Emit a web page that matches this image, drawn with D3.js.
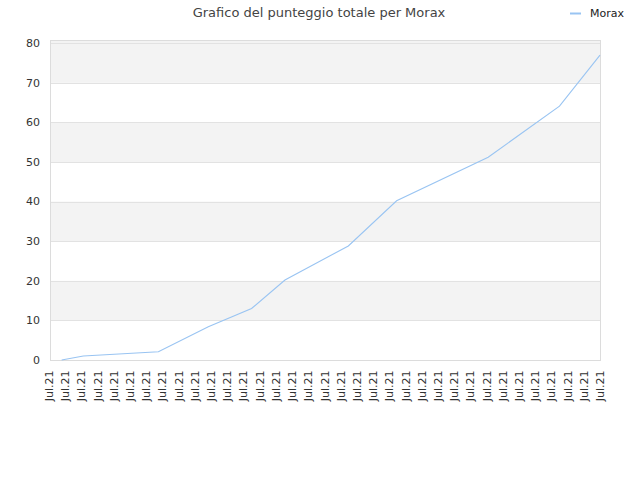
<!DOCTYPE html>
<html>
<head>
<meta charset="utf-8">
<script src="https://cdn.jsdelivr.net/npm/d3@7"></script>
<style>
  body { margin: 0; background: #fff; }
  text { font-family: "DejaVu Sans", Verdana, sans-serif; }
</style>
</head>
<body>
<svg id="chart"></svg>
<script>
const width = 640;
const height = 480;

// 35 ticks along the bottom, all the same month label
const tickLabels = d3.range(35).map(() => "Jul.21");

// score samples, position in tick units
const times  = [0.78, 2.12, 6.75, 9.83, 12.5, 14.56, 18.47, 21.45, 27.1, 31.5, 34];
const scores = [0,    1.0,  2.1,  8.4,  13.0, 20.2,  28.8,  40.2,  51.2, 64.1, 77];

const yTicks = [0, 10, 20, 30, 40, 50, 60, 70, 80];
const seriesName = "Morax";
const lineColor = "#99c4f2";

const plot = { left: 50.5, right: 600.5, top: 40.5, bottom: 360.5 };

const svg = d3.select("#chart")
  .attr("width", width)
  .attr("height", height);

const x = d3.scaleLinear().domain([0, 34]).range([49, 600]);
const y = d3.scaleLinear().domain([0, 80.8]).range([plot.bottom - 0.5, plot.top - 0.5]);

/* ---------------------------
Background bands + grid
--------------------------- */

const bands = [[10, 20], [30, 40], [50, 60], [70, 80.8]];
svg.selectAll("rect.band")
  .data(bands)
  .enter()
  .append("rect")
  .attr("class", "band")
  .attr("x", plot.left)
  .attr("width", plot.right - plot.left)
  .attr("y", d => y(d[1]))
  .attr("height", d => y(d[0]) - y(d[1]))
  .attr("fill", "#f3f3f3");

svg.selectAll("line.grid")
  .data(yTicks.slice(1))
  .enter()
  .append("line")
  .attr("class", "grid")
  .attr("x1", plot.left)
  .attr("x2", plot.right)
  .attr("y1", d => Math.round(y(d)) + 0.5)
  .attr("y2", d => Math.round(y(d)) + 0.5)
  .attr("stroke", "#e2e2e2");

// frame
svg.append("rect")
  .attr("x", plot.left)
  .attr("y", plot.top)
  .attr("width", plot.right - plot.left)
  .attr("height", plot.bottom - plot.top)
  .attr("fill", "none")
  .attr("stroke", "#dcdcdc");

/* ---------------------------
Axes labels
--------------------------- */

svg.selectAll("text.ytick")
  .data(yTicks)
  .enter()
  .append("text")
  .attr("class", "ytick")
  .attr("x", 40)
  .attr("y", d => y(d))
  .attr("dy", "0.35em")
  .attr("text-anchor", "end")
  .attr("font-size", 11)
  .attr("fill", "#333")
  .text(d => d);

svg.selectAll("text.xtick")
  .data(tickLabels)
  .enter()
  .append("text")
  .attr("class", "xtick")
  .attr("transform", (d, i) => `translate(${x(i) + 4},${plot.bottom + 10}) rotate(-90)`)
  .attr("text-anchor", "end")
  .attr("font-size", 11)
  .attr("fill", "#333")
  .text(d => d);

/* ---------------------------
Series line
--------------------------- */

const pts = times.map((t, i) => [t, scores[i]]);

svg.append("path")
  .datum(pts)
  .attr("fill", "none")
  .attr("stroke", lineColor)
  .attr("stroke-width", 1.1)
  .attr("d", d3.line().x(d => x(d[0])).y(d => y(d[1])));

/* ---------------------------
Title + legend
--------------------------- */

svg.append("text")
  .attr("x", 319)
  .attr("y", 17)
  .attr("text-anchor", "middle")
  .attr("font-size", 13)
  .attr("fill", "#444")
  .text("Grafico del punteggio totale per " + seriesName);

svg.append("line")
  .attr("x1", 570).attr("x2", 581)
  .attr("y1", 13.5).attr("y2", 13.5)
  .attr("stroke", lineColor)
  .attr("stroke-width", 2);

svg.append("text")
  .attr("x", 590)
  .attr("y", 13)
  .attr("dy", "0.35em")
  .attr("font-size", 11)
  .attr("fill", "#222")
  .text(seriesName);
</script>
</body>
</html>
